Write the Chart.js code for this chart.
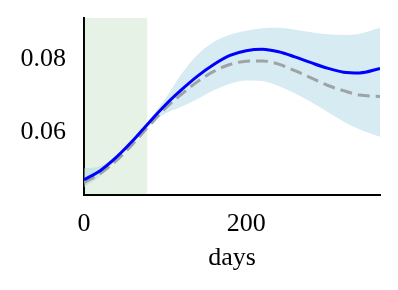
<!doctype html>
<html lang="en">
<head>
  <meta charset="utf-8">
  <title>days</title>
  <script src="https://cdn.jsdelivr.net/npm/chart.js@4"></script>
  <style>
    html, body { margin: 0; padding: 0; background: #fff; }
    #wrap { width: 398px; height: 290px; }
  </style>
</head>
<body>
  <div id="wrap"><canvas id="canvas" width="398" height="290"></canvas></div>
  <script>
    // values
    var days = [0, 20, 40, 60, 80, 100, 120, 140, 160, 180, 200, 220, 240, 260, 280, 300, 320, 340, 365];
    var fitted = [0.0468, 0.0493, 0.0530, 0.0575, 0.0625, 0.0673, 0.0715, 0.0753, 0.0785, 0.0810, 0.0823, 0.0827, 0.0820, 0.0806, 0.0790, 0.0775, 0.0764, 0.0762, 0.0774];
    var truth = [0.0460, 0.0485, 0.0521, 0.0566, 0.0616, 0.0664, 0.0703, 0.0738, 0.0766, 0.0785, 0.0794, 0.0795, 0.0786, 0.0768, 0.0748, 0.0728, 0.0713, 0.0701, 0.0697];
    var upper = [0.0499, 0.0505, 0.0536, 0.0580, 0.0632, 0.0690, 0.0758, 0.0812, 0.0847, 0.0867, 0.0878, 0.0885, 0.0886, 0.0881, 0.0874, 0.0868, 0.0866, 0.0870, 0.0886];
    var lower = [0.0447, 0.0478, 0.0523, 0.0570, 0.0616, 0.0650, 0.0669, 0.0690, 0.0714, 0.0732, 0.0741, 0.0740, 0.0726, 0.0706, 0.0682, 0.0655, 0.0628, 0.0606, 0.0586];
    var shadeStart = 0;
    var shadeEnd = 78;
    var xTicks = [0, 200];
    var yTicks = [0.06, 0.08];

    function pts(ys) {
      return days.map(function (d, i) { return { x: d, y: ys[i] }; });
    }

    var shadePlugin = {
      id: 'shade',
      beforeDatasetsDraw: function (chart) {
        var ctx = chart.ctx, a = chart.chartArea, x = chart.scales.x;
        var x0 = x.getPixelForValue(shadeStart), x1 = x.getPixelForValue(shadeEnd);
        ctx.save();
        ctx.fillStyle = 'rgba(0,128,0,0.1)';
        ctx.fillRect(x0, a.top, x1 - x0, a.bottom - a.top);
        ctx.restore();
      }
    };

    var font = { family: '"Liberation Serif", serif', size: 26 };
    var smooth = { pointRadius: 0, cubicInterpolationMode: 'monotone' };

    new Chart(document.getElementById('canvas'), {
      type: 'line',
      data: {
        datasets: [
          Object.assign({ data: pts(fitted), borderColor: '#0000ff', borderWidth: 3, order: 1 }, smooth),
          Object.assign({ data: pts(truth), borderColor: '#9ea3a6', borderWidth: 3, borderDash: [12, 6], order: 2 }, smooth),
          Object.assign({ data: pts(upper), borderWidth: 0, borderColor: 'transparent', fill: false, order: 3 }, smooth),
          Object.assign({ data: pts(lower), borderWidth: 0, borderColor: 'transparent', fill: '-1', backgroundColor: 'rgba(173,216,230,0.5)', order: 3 }, smooth)
        ]
      },
      options: {
        responsive: false,
        animation: false,
        events: [],
        layout: { padding: { left: 0, right: 18, top: 18, bottom: 16 } },
        plugins: { legend: { display: false }, tooltip: { enabled: false } },
        scales: {
          x: {
            type: 'linear', min: 0, max: 365,
            afterBuildTicks: function (s) { s.ticks = xTicks.map(function (v) { return { value: v }; }); },
            afterFit: function (s) { s.height = 79; s.paddingLeft = 0; s.paddingRight = 0; },
            grid: { display: false, drawTicks: true, tickLength: 7, tickColor: '#000', tickWidth: 1.5 },
            border: { display: true, color: '#000', width: 2 },
            ticks: { color: '#000', font: font, padding: 7, maxRotation: 0, callback: function (v) { return String(v); } },
            title: { display: true, text: 'days', color: '#000', font: font, padding: { top: 2, bottom: 0 } }
          },
          y: {
            min: 0.0426, max: 0.0913,
            afterBuildTicks: function (s) { s.ticks = yTicks.map(function (v) { return { value: v }; }); },
            afterFit: function (s) { s.width = 84; s.paddingTop = 0; s.paddingBottom = 0; },
            grid: { display: false, drawTicks: true, tickLength: 7, tickColor: '#000', tickWidth: 1.5 },
            border: { display: true, color: '#000', width: 2 },
            ticks: { color: '#000', font: font, padding: 11, callback: function (v) { return v.toFixed(2); } }
          }
        }
      },
      plugins: [shadePlugin]
    });
  </script>
</body>
</html>
